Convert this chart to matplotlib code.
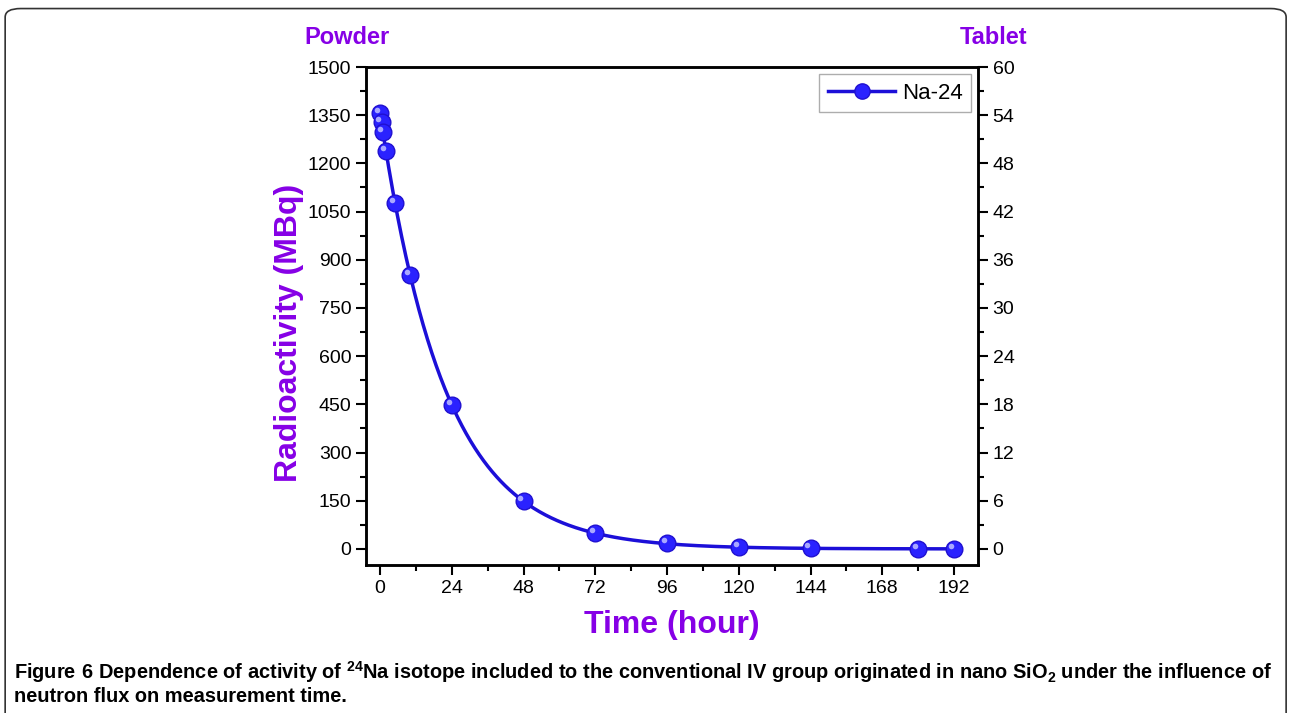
import numpy as np
import matplotlib
matplotlib.use("Agg")
import matplotlib.pyplot as plt
from matplotlib.patches import FancyBboxPatch
from matplotlib.transforms import ScaledTranslation

plt.rcParams['font.family'] = ['Liberation Sans', 'DejaVu Sans']
plt.rcParams['mathtext.fontset'] = 'custom'
plt.rcParams['mathtext.rm'] = 'Liberation Sans'
plt.rcParams['mathtext.bf'] = 'Liberation Sans:bold'

time_h = [0, 0.5, 1, 2, 5, 10, 24, 48, 72, 96, 120, 144, 180, 192]
activity = [1358, 1328, 1297, 1238, 1077, 854, 447, 148, 49, 17, 5, 2, 0.3, 0.2]
x_ticks = [0, 24, 48, 72, 96, 120, 144, 168, 192]
y_ticks = [0, 150, 300, 450, 600, 750, 900, 1050, 1200, 1350, 1500]
y2_ticks = [0, 6, 12, 18, 24, 30, 36, 42, 48, 54, 60]

purple = '#8600e6'
line_col = '#1c0fd8'

fig = plt.figure(figsize=(12.9, 7.13), dpi=100)
frame = FancyBboxPatch((0.004, -0.05), 0.993, 1.038, boxstyle="round,pad=0,rounding_size=0.012",
                       transform=fig.transFigure, fill=False, ec='#333333', lw=1.2)
fig.patches.append(frame)

ax = fig.add_axes([0.2837, 0.2076, 0.4744, 0.6984])

# exponential fit curve through the measured points
t = np.array(time_h, dtype=float)
a = np.array(activity, dtype=float)
k, b = np.polyfit(t, np.log(a), 1, w=np.sqrt(a))
tt = np.linspace(0, 192, 400)
ax.plot(tt, np.exp(b + k * tt), color=line_col, lw=2.5, zorder=2)

ax.plot(t, a, 'o', ms=12, mfc='#2a22ff', mec='#2010d0', mew=1, zorder=3)
hl = ax.transData + ScaledTranslation(-2.2 / 72, 2.2 / 72, fig.dpi_scale_trans)
ax.plot(t, a, 'o', ms=4, mfc='#b8b8ff', mec='none', alpha=0.9, zorder=4, transform=hl)

# legend proxy
ax.plot([], [], '-o', color=line_col, lw=2.5, ms=11, mfc='#2a22ff', mec='#2010d0', label='Na-24')
leg = ax.legend(loc='upper right', fontsize=16, frameon=True, fancybox=False,
                edgecolor='#999999', handlelength=3.0, borderaxespad=0.3,
                handletextpad=0.3, borderpad=0.4)
leg.get_frame().set_linewidth(1.0)

ax.set_xlim(-4.7, 200)
ax.set_ylim(-50, 1500)
ax.set_xticks(x_ticks)
ax.set_xticks(np.arange(12, 200, 24), minor=True)
ax.set_yticks(y_ticks)
ax.set_yticks(np.arange(75, 1500, 150), minor=True)
ax.tick_params(which='major', direction='out', length=7, width=1.5, labelsize=14)
ax.tick_params(which='minor', direction='out', length=4, width=1.5)
for s in ax.spines.values():
    s.set_linewidth(1.8)

ax2 = ax.twinx()
ax2.set_ylim(-2, 60)
ax2.set_yticks(y2_ticks)
ax2.set_yticks(np.arange(3, 60, 6), minor=True)
ax2.tick_params(which='major', direction='out', length=7, width=1.5, labelsize=14)
ax2.tick_params(which='minor', direction='out', length=4, width=1.5)
for s in ax2.spines.values():
    s.set_linewidth(1.8)

ax.set_xlabel('Time (hour)', color=purple, fontsize=23, fontweight='bold', labelpad=10)
ax.set_ylabel('Radioactivity (MBq)', color=purple, fontsize=23, fontweight='bold')
ax.yaxis.label.set_va('center')
ax.yaxis.set_label_coords(-0.126, 0.466)

fig.text(0.269, 0.948, 'Powder', color=purple, fontsize=17, fontweight='bold', ha='center', va='center')
fig.text(0.770, 0.948, 'Tablet', color=purple, fontsize=17, fontweight='bold', ha='center', va='center')

fig.text(0.011, 0.058, r'$\mathbf{Figure\ 6}$ Dependence of activity of $^{\mathbf{24}}$Na isotope included to the '
         r'conventional IV group originated in nano SiO$_\mathbf{2}$ under the influence of',
         fontsize=14.4, fontweight='bold', ha='left', va='center')
fig.text(0.011, 0.023, 'neutron flux on measurement time.', fontsize=14.4, fontweight='bold',
         ha='left', va='center')

fig.savefig('out.png', dpi=100)
